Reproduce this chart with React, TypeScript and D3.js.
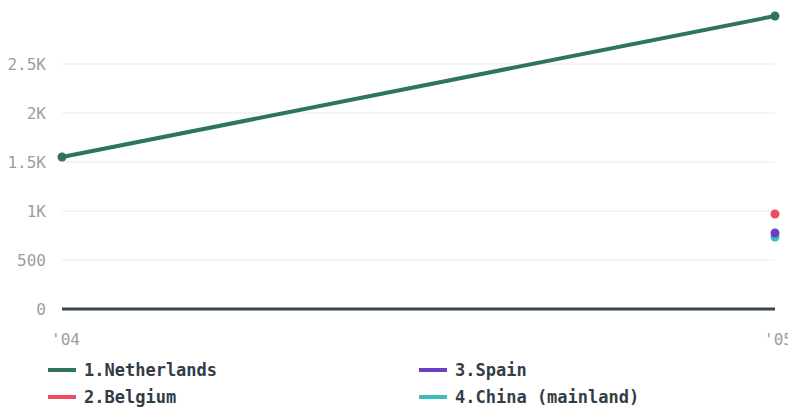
import React from "react";
import * as d3 from "d3";

const years = ["'04", "'05"];
const seriesNames = ["1.Netherlands", "2.Belgium", "3.Spain", "4.China (mainland)"];
const seriesColors = ["#2e7559", "#ef4b62", "#6b3fc4", "#3dbdbb"];
const netherlands = [1551, 2990];
const belgium = [null, 969];
const spain = [null, 776];
const china = [null, 735];
const yTicks = [0, 500, 1000, 1500, 2000, 2500];
const yTickLabels = ["0", "500", "1K", "1.5K", "2K", "2.5K"];

const allSeries = [netherlands, belgium, spain, china];

export default function App() {
  const W = 788, H = 408;
  const x = d3.scaleLinear().domain([0, 1]).range([62, 775]);
  const y = d3.scaleLinear().domain([0, 2990]).range([309, 16]);
  const font = "'DejaVu Sans Mono', monospace";
  const line = d3
    .line<number | null>()
    .defined((d) => d != null)
    .x((_, i) => x(i))
    .y((d) => y(d as number));

  const order = [3, 2, 1, 0];

  return (
    <svg width={W} height={H} style={{ position: "absolute", left: 0, top: 0, background: "#fff" }}>
      {yTicks.map((t, i) => (
        <g key={t}>
          {t !== 0 && (
            <line x1={62} x2={775} y1={y(t)} y2={y(t)} stroke="#ebebeb" strokeWidth={1} />
          )}
          <text
            x={46}
            y={y(t)}
            dy="0.36em"
            textAnchor="end"
            fontFamily={font}
            fontSize={16}
            fill="#9a9ea2"
          >
            {yTickLabels[i]}
          </text>
        </g>
      ))}
      <line x1={62} x2={775} y1={y(0)} y2={y(0)} stroke="#36454f" strokeWidth={3} />
      {years.map((lab, i) => (
        <text
          key={lab}
          x={x(i) - 11}
          y={339}
          dy="0.36em"
          fontFamily={font}
          fontSize={16}
          fill="#9a9ea2"
        >
          {lab}
        </text>
      ))}
      {order.map((si) => {
        const data = allSeries[si];
        return (
          <g key={si}>
            <path d={line(data) || ""} fill="none" stroke={seriesColors[si]} strokeWidth={4} />
            {data.map((v, i) =>
              v == null ? null : (
                <circle key={i} cx={x(i)} cy={y(v)} r={4.5} fill={seriesColors[si]} />
              )
            )}
          </g>
        );
      })}
      {seriesNames.map((name, i) => {
        const col = Math.floor(i / 2);
        const row = i % 2;
        const lx = col === 0 ? 48 : 419;
        const ly = 370 + row * 27;
        return (
          <g key={name}>
            <line x1={lx} x2={lx + 28} y1={ly} y2={ly} stroke={seriesColors[i]} strokeWidth={4} />
            <text
              x={lx + 36}
              y={ly}
              dy="0.36em"
              fontFamily={font}
              fontSize={17}
              fontWeight="bold"
              fill="#333d47"
            >
              {name}
            </text>
          </g>
        );
      })}
    </svg>
  );
}
